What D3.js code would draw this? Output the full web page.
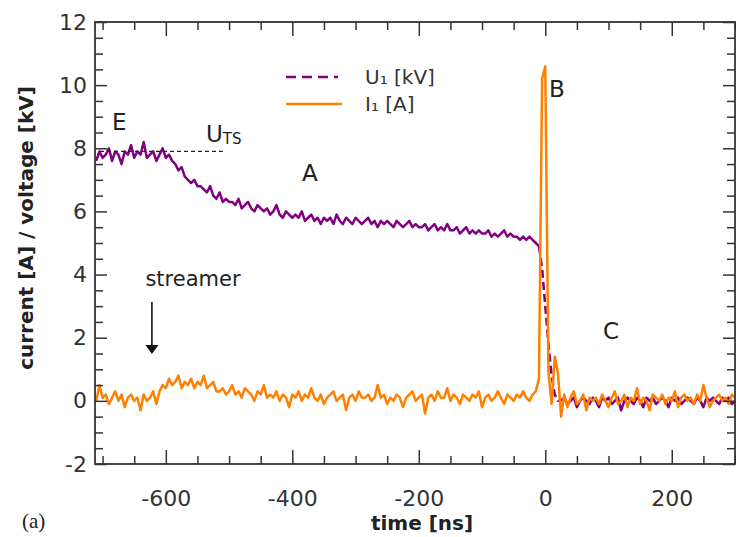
<!DOCTYPE html>
<html><head><meta charset="utf-8">
<script src="https://cdn.jsdelivr.net/npm/d3@7"></script>
<style>body{margin:0;background:#fff}svg{display:block}</style>
</head><body><svg id="c" width="736" height="537"></svg>
<script>
// ---- data (sampled every 5 ns, starting at -710 ns) ----
const timeStart = -710, timeStep = 5;
const voltageU1 = [
  7.6, 7.9, 7.7, 7.8, 8.0, 7.6, 7.9, 7.8, 7.5, 7.9, 7.8, 8.1, 7.7, 7.9, 7.8, 8.2, 7.7, 7.8, 7.9, 7.6, 7.8, 8.0, 7.7, 7.8,
  7.6, 7.5, 7.3, 7.4, 7.1, 7.0, 6.9, 7.0, 6.8,
  6.8, 6.7, 6.6, 6.8, 6.5, 6.4, 6.6, 6.3, 6.4, 6.3,
  6.3, 6.2, 6.4, 6.1, 6.2, 6.3, 6.1, 6.0, 6.2, 6.1,
  6.0, 6.1, 5.9, 6.0, 6.2, 5.9, 5.8, 6.0, 5.9, 5.8,
  5.9, 5.8, 6.0, 5.7, 5.8, 5.9, 5.7, 5.8, 5.6, 5.8,
  5.7, 5.8, 5.6, 5.9, 5.7, 5.6, 5.8, 5.7, 5.6, 5.8,
  5.7, 5.6, 5.7, 5.8, 5.6, 5.7, 5.5, 5.7, 5.6, 5.7,
  5.6, 5.5, 5.7, 5.6, 5.5, 5.6, 5.7, 5.5, 5.6, 5.5,
  5.5, 5.6, 5.4, 5.5, 5.6, 5.4, 5.5, 5.4, 5.6, 5.4,
  5.4, 5.5, 5.3, 5.4, 5.5, 5.3, 5.4, 5.3, 5.4, 5.3,
  5.3, 5.4, 5.2, 5.3, 5.2, 5.3, 5.4, 5.2, 5.3, 5.2,
  5.2, 5.1, 5.2, 5.1, 5.2, 5.1, 5.0,
  4.9, 4.2, 3.0, 1.8, 0.8, 0.2, 0.0,
  0.0, 0.1, -0.1, 0.0, 0.1, -0.2, 0.0, 0.1, 0.0, -0.1,
  0.1, 0.0, -0.2, 0.1, 0.0, 0.1, -0.1, 0.0, 0.1, -0.3,
  0.0, 0.1, 0.0, -0.1, 0.1, 0.0, -0.2, 0.1, 0.0, 0.1,
  -0.1, 0.0, 0.1, 0.0, -0.2, 0.1, 0.0, 0.1, -0.1, 0.0,
  0.1, 0.0, -0.1, 0.1, 0.0, -0.2, 0.1, 0.0, 0.1, 0.0,
  -0.1, 0.1, 0.0, 0.1, -0.1, 0.0
];
const currentI1 = [
  0.0, 0.5, 0.1, 0.2, -0.1, 0.1, 0.3, 0.0, 0.2, -0.2, 0.1, 0.2, 0.0, 0.1, -0.3, 0.2, 0.0, 0.1, 0.3, -0.1,
  0.3, 0.5, 0.4, 0.7, 0.5, 0.6, 0.8, 0.4, 0.6, 0.5, 0.7, 0.4, 0.6, 0.5, 0.8, 0.4, 0.5, 0.6, 0.3,
  0.3, 0.4, 0.2, 0.3, 0.5, 0.2, 0.3, 0.1, 0.4, 0.3, 0.2, 0.0, 0.3, 0.2, 0.5, 0.1,
  0.2, 0.1, 0.3, 0.0, 0.2, 0.1, -0.2, 0.2, 0.1, 0.3,
  0.0, 0.2, 0.1, 0.4, 0.1, 0.0, 0.2, -0.1, 0.1, 0.2,
  0.3, 0.0, 0.1, 0.2, -0.3, 0.1, 0.2, 0.0, 0.3, 0.1,
  0.1, 0.2, 0.0, 0.1, 0.5, 0.1, 0.2, -0.1, 0.1, 0.0,
  0.2, 0.1, -0.2, 0.1, 0.2, 0.3, 0.0, 0.1, 0.2, -0.4,
  0.1, 0.2, 0.0, 0.3, 0.1, 0.1, 0.4, 0.0, 0.2, 0.1,
  -0.1, 0.2, 0.1, 0.0, 0.2, 0.1, 0.3, -0.2, 0.1, 0.2,
  0.0, 0.1, 0.3, 0.1, -0.1, 0.2, 0.1, 0.0, 0.2, 0.1,
  0.3, 0.1, 0.0, 0.2,
  0.3, 0.7, 10.2, 10.6, 0.9, -0.1, 1.4, 0.9, -0.5,
  0.2, -0.2, 0.1, 0.3, -0.1, 0.0, 0.2, -0.3, 0.1, 0.0,
  0.1, -0.1, 0.2, 0.0, -0.2, 0.1, 0.3, -0.1, 0.0, 0.2,
  -0.2, 0.1, 0.0, 0.4, -0.1, 0.1, 0.0, -0.3, 0.2, 0.1,
  0.0, 0.2, -0.1, 0.1, 0.0, 0.3, -0.2, 0.1, 0.2, 0.0,
  0.1, -0.1, 0.2, 0.0, 0.5, 0.1, -0.2, 0.0, 0.1, 0.2,
  0.0, 0.1, -0.1, 0.2, 0.1
];
const xTicks = [-600, -400, -200, 0, 200];
const yTicks = [-2, 0, 2, 4, 6, 8, 10, 12];
const seriesNames = ["U\u2081 [kV]", "I\u2081 [A]"];
const thresholdUTS = 7.9;
const xLabel = "time [ns]", yLabel = "current [A] / voltage [kV]";

// ---- layout ----
const L = 95, R = 735, T = 22, B = 464;
const x = d3.scaleLinear([-712, 300], [L, R]);
const y = d3.scaleLinear([-2, 12], [B, T]);
const svg = d3.select("#c");
const font = "DejaVu Sans, sans-serif";
const axisColor = "#333";
const purple = "#800080", orange = "#ff8000";
const fmt = d => String(d); // plain hyphen minus as in the original

const toPts = arr => arr.map((v, i) => ({t: timeStart + i * timeStep, v}));
const U = toPts(voltageU1), I = toPts(currentI1);
const line = d3.line().x(d => x(d.t)).y(d => y(d.v));

const plot = svg.append("g");
// voltage: solid noisy parts, dashed steep drop
plot.append("path").datum(U.filter(d => d.t <= -10)).attr("d", line)
  .attr("fill", "none").attr("stroke", purple).attr("stroke-width", 2.5).attr("stroke-linejoin", "round");
plot.append("path").datum(U.filter(d => d.t >= -10 && d.t <= 25)).attr("d", line)
  .attr("fill", "none").attr("stroke", purple).attr("stroke-width", 2.5).attr("stroke-dasharray", "8,4");
plot.append("path").datum(U.filter(d => d.t >= 25)).attr("d", line)
  .attr("fill", "none").attr("stroke", purple).attr("stroke-width", 2.5).attr("stroke-linejoin", "round");
// current
plot.append("path").datum(I).attr("d", line)
  .attr("fill", "none").attr("stroke", orange).attr("stroke-width", 2.5).attr("stroke-linejoin", "round");

// U_TS threshold dashed line
svg.append("line").attr("x1", L + 5).attr("x2", x(-510)).attr("y1", y(thresholdUTS)).attr("y2", y(thresholdUTS))
  .attr("stroke", "#222").attr("stroke-width", 1.2).attr("stroke-dasharray", "4,3");

// ---- axes ----
const minorX = d3.range(-700, 301, 50).filter(v => !xTicks.includes(v));
const minorY = d3.range(-2, 12.01, 0.5).filter(v => !yTicks.includes(v));
function styleAxis(g) {
  g.select(".domain").remove();
  g.selectAll("line").attr("stroke", axisColor).attr("stroke-width", 1.5);
  g.selectAll("text").attr("fill", axisColor).attr("font-family", font).attr("font-size", 22);
}
svg.append("g").attr("transform", `translate(0,${B})`)
  .call(d3.axisBottom(x).tickValues(xTicks).tickFormat(fmt).tickSizeInner(-14).tickSizeOuter(0).tickPadding(26)).call(styleAxis);
svg.append("g").attr("transform", `translate(0,${B})`)
  .call(d3.axisBottom(x).tickValues(minorX).tickSizeInner(-8).tickSizeOuter(0).tickFormat("")).call(styleAxis);
svg.append("g").attr("transform", `translate(0,${T})`)
  .call(d3.axisTop(x).tickValues(xTicks).tickSizeInner(-14).tickSizeOuter(0).tickFormat("")).call(styleAxis);
svg.append("g").attr("transform", `translate(0,${T})`)
  .call(d3.axisTop(x).tickValues(minorX).tickSizeInner(-8).tickSizeOuter(0).tickFormat("")).call(styleAxis);
svg.append("g").attr("transform", `translate(${L},0)`)
  .call(d3.axisLeft(y).tickValues(yTicks).tickFormat(fmt).tickSizeInner(-12).tickSizeOuter(0).tickPadding(8)).call(styleAxis);
svg.append("g").attr("transform", `translate(${L},0)`)
  .call(d3.axisLeft(y).tickValues(minorY).tickSizeInner(-8).tickSizeOuter(0).tickFormat("")).call(styleAxis);
svg.append("g").attr("transform", `translate(${R},0)`)
  .call(d3.axisRight(y).tickValues(yTicks).tickSizeInner(-12).tickSizeOuter(0).tickFormat("")).call(styleAxis);
svg.append("g").attr("transform", `translate(${R},0)`)
  .call(d3.axisRight(y).tickValues(minorY).tickSizeInner(-8).tickSizeOuter(0).tickFormat("")).call(styleAxis);
svg.append("rect").attr("x", L).attr("y", T).attr("width", R - L).attr("height", B - T)
  .attr("fill", "none").attr("stroke", axisColor).attr("stroke-width", 1.8);

// axis titles
svg.append("text").attr("x", 422).attr("y", 530).attr("text-anchor", "middle")
  .attr("font-family", font).attr("font-weight", "bold").attr("font-size", 20).attr("fill", "#222").text(xLabel);
svg.append("text").attr("transform", "translate(33,228) rotate(-90)").attr("text-anchor", "middle")
  .attr("font-family", font).attr("font-weight", "bold").attr("font-size", 20).attr("fill", "#222").text(yLabel);
svg.append("text").attr("x", 22).attr("y", 528).attr("font-family", "Liberation Serif, serif")
  .attr("font-size", 21).attr("fill", "#222").text("(a)");

// legend
const lg = svg.append("g");
lg.append("line").attr("x1", 286).attr("x2", 338).attr("y1", 77).attr("y2", 77)
  .attr("stroke", purple).attr("stroke-width", 2.6).attr("stroke-dasharray", "10,6");
lg.append("line").attr("x1", 286).attr("x2", 342).attr("y1", 104).attr("y2", 104)
  .attr("stroke", orange).attr("stroke-width", 2.6);
lg.selectAll("text.leg").data(seriesNames).join("text").attr("class", "leg")
  .attr("x", 365).attr("y", (d, i) => 84 + i * 27)
  .attr("font-family", font).attr("font-size", 20).attr("fill", "#333").text(d => d);

// annotations
const ann = [["E", 112, 130], ["A", 302, 181], ["B", 549, 97], ["C", 603, 339]];
svg.selectAll("text.ann").data(ann).join("text").attr("class", "ann")
  .attr("x", d => d[1]).attr("y", d => d[2]).attr("font-family", font).attr("font-size", 23)
  .attr("fill", "#222").text(d => d[0]);
const uts = svg.append("text").attr("x", 206).attr("y", 142).attr("font-family", font)
  .attr("font-size", 23).attr("fill", "#222");
uts.append("tspan").text("U");
uts.append("tspan").attr("font-size", 15).attr("dy", 2).text("TS");
svg.append("text").attr("x", 193).attr("y", 286).attr("text-anchor", "middle").attr("font-family", font)
  .attr("font-size", 21).attr("fill", "#222").text("streamer");
svg.append("line").attr("x1", x(-622)).attr("x2", x(-622)).attr("y1", 302).attr("y2", 346)
  .attr("stroke", "#111").attr("stroke-width", 1.6);
svg.append("path").attr("d", `M${x(-622) - 6.5},345 L${x(-622) + 6.5},345 L${x(-622)},354 Z`).attr("fill", "#111");
</script></body></html>
